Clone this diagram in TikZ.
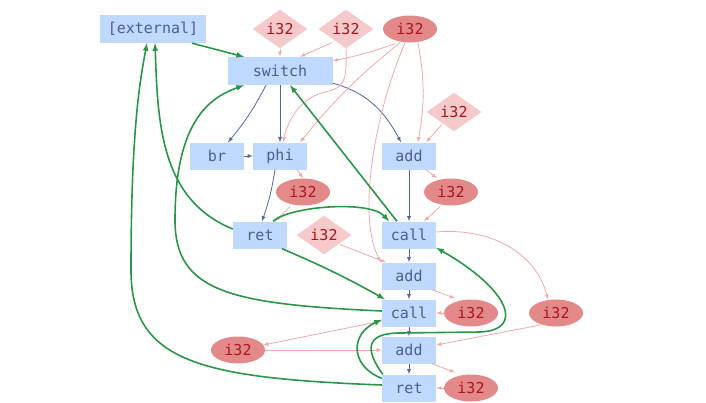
\documentclass[tikz,border=0pt]{standalone}
\usepackage{fontspec}
\setmonofont{DejaVu Sans Mono}
\usepackage{tikz}
\usetikzlibrary{arrows}
\usetikzlibrary{shapes.geometric,positioning,calc}
\definecolor{boxfill}{RGB}{191,217,255}
\definecolor{boxtext}{RGB}{78,92,145}
\definecolor{cstfill}{RGB}{227,137,137}
\definecolor{cstlite}{RGB}{246,202,202}
\definecolor{csttext}{RGB}{168,22,28}
\definecolor{flowline}{RGB}{82,102,162}
\definecolor{dataline}{RGB}{245,168,168}
\definecolor{callline}{RGB}{44,150,72}

\begin{document}
\begin{tikzpicture}[x=1pt,y=-1pt,
	font=\fontsize{15}{18}\selectfont\ttfamily,
	inst/.style={rectangle,fill=boxfill,text=boxtext,minimum width=54pt,minimum height=27pt,inner sep=0pt},
	wide/.style={inst,minimum width=106pt,minimum height=28pt},
	cst/.style={ellipse,fill=cstfill,text=csttext,minimum width=54pt,minimum height=27pt,inner sep=0pt},
	lit/.style={diamond,fill=cstlite,text=csttext,minimum width=55pt,minimum height=38pt,inner sep=0pt},
	flow/.style={-latex,draw=flowline,line width=0.8pt},
	data/.style={-latex,draw=dataline,line width=0.8pt},
	call/.style={-latex,draw=callline,line width=1.6pt}]
				\useasboundingbox (0,0) rectangle (706,402);
				% instructions
				\node[wide] (ext) at (153,29) {[external]};
				\node[wide,minimum width=105pt] (switch) at (280,71) {switch};
				\node[inst] (br) at (217,156) {br};
				\node[inst] (phi) at (280,156) {phi};
				\node[inst] (addA) at (409,156) {add};
				\node[inst] (retA) at (260,235) {ret};
				\node[inst] (callA) at (409,235) {call};
				\node[inst] (addB) at (409,276) {add};
				\node[inst] (callB) at (409,313) {call};
				\node[inst] (addC) at (409,350) {add};
				\node[inst] (retB) at (409,388) {ret};
				% constants
				\node[lit] (litA) at (280,29) {i32};
				\node[lit] (litB) at (346,29) {i32};
				\node[cst] (cstA) at (410,29) {i32};
				\node[lit] (litC) at (454,112) {i32};
				\node[cst] (cstB) at (303,192) {i32};
				\node[cst] (cstC) at (451,192) {i32};
				\node[lit] (litD) at (324,235) {i32};
				\node[cst] (cstD) at (471,313) {i32};
				\node[cst] (cstE) at (556,313) {i32};
				\node[cst] (cstF) at (238,350) {i32};
				\node[cst] (cstG) at (471,388) {i32};
				% control flow
				\draw[flow] ([xshift=-14pt]switch.south) to[bend left=6] ([xshift=11pt]br.north);
				\draw[flow] (switch.south) -- (phi.north);
				\draw[flow] ([yshift=2pt]switch.south east) to[out=-15,in=118] ([xshift=-8pt]addA.north);
				\draw[flow] (br.east) -- (phi.west);
				\draw[flow] ([xshift=-5pt]phi.south) to[bend left=5] ([xshift=2pt]retA.north);
				\draw[flow] (addA.south) -- (callA.north);
				\draw[flow] (callA.south) -- (addB.north);
				\draw[flow] (addB.south) -- (callB.north);
				\draw[flow] (callB.south) -- (addC.north);
				\draw[flow] (addC.south) -- (retB.north);
				% data
				\draw[data] (litA.south) -- (switch.north);
				\draw[data] ([xshift=-14pt,yshift=6pt]litB.south) -- ([xshift=20pt]switch.north);
				\draw[data] ([xshift=-15pt,yshift=-1pt]cstA.south) to[bend left=4] ([yshift=-4pt]switch.north east);
				\draw[data] (litB.south) .. controls (347,80) and (345,88) .. (325,92) .. controls (300,98) and (288,120) .. ([xshift=3pt]phi.north);
				\draw[data] ([xshift=-10pt]cstA.south) to[bend right=6] ([xshift=20pt]phi.north);
				\draw[data] ([xshift=-5pt]cstA.south) .. controls (372,120) and (358,220) .. ([xshift=-28pt]addB.north);
				\draw[data] ([xshift=8pt]cstA.south) to[bend left=10] ([xshift=9pt]addA.north);
				\draw[data] ([xshift=-12pt,yshift=7pt]litC.south) -- ([xshift=17pt]addA.north);
				\draw[data] ([xshift=17pt]phi.south) -- (cstB.north);
				\draw[data] ([xshift=-13pt,yshift=-1pt]cstB.south) -- ([xshift=15pt]retA.north);
				\draw[data] ([xshift=17pt]addA.south) -- ([xshift=-14pt]cstC.north);
				\draw[data] ([xshift=-11pt,yshift=-1pt]cstC.south) -- ([xshift=15pt]callA.north);
				\draw[data] ([xshift=16pt,yshift=10pt]litD.south) -- ([xshift=-23pt]addB.north);
				\draw[data] ([yshift=3pt]callA.east) to[out=5,in=105] ([xshift=-8pt]cstE.north);
				\draw[data] ([xshift=-14pt,yshift=2pt]cstE.south) -- ([yshift=5pt]addC.east);
				\draw[data] ([xshift=23pt]addB.south) -- ([xshift=-16pt,yshift=1pt]cstD.north);
				\draw[data] (cstD.west) -- (callB.east);
				\draw[data] ([yshift=-8pt]callB.west) -- ([xshift=-2pt,yshift=5pt]cstF.east);
				\draw[data] (cstF.east) -- (addC.west);
				\draw[data] ([xshift=23pt]addC.south) -- ([xshift=-16pt,yshift=2pt]cstG.north);
				\draw[data] (cstG.west) -- (retB.east);
				% calls and returns
				\draw[call] ([xshift=39pt]ext.south) -- ([xshift=-36pt]switch.north);
				\draw[call] ([yshift=6pt]retA.west) to[out=158,in=-88] ([xshift=2pt]ext.south);
				\draw[call] ([yshift=3pt]retB.west) .. controls (200,378) and (131,362) .. (131,270) .. controls (131,130) and (140,80) .. ([xshift=-6pt]ext.south);
				\draw[call] ([yshift=2pt]callB.west) .. controls (230,304) and (175,292) .. (175,220) .. controls (175,118) and (212,97) .. ([xshift=-36pt]switch.south);
				\draw[call] ([xshift=-12pt]callA.north) -- ([xshift=10pt]switch.south);
				\draw[call] ([xshift=13pt]retA.north) .. controls (290,206) and (370,200) .. ([xshift=-20pt]callA.north);
				\draw[call] ([xshift=22pt]retA.south) to[bend left=3] ([xshift=-24pt]callB.north);
				\draw[call] ([yshift=-4pt]retB.north west) .. controls (350,366) and (350,334) .. ([yshift=7pt]callB.south west);
				\draw[call] ([xshift=1pt]retB.north west) .. controls (365,350) and (365,333) .. (400,333) -- (480,332) .. controls (525,330) and (510,290) .. ([yshift=1pt]callA.south east);
			\end{tikzpicture}
\end{document}
